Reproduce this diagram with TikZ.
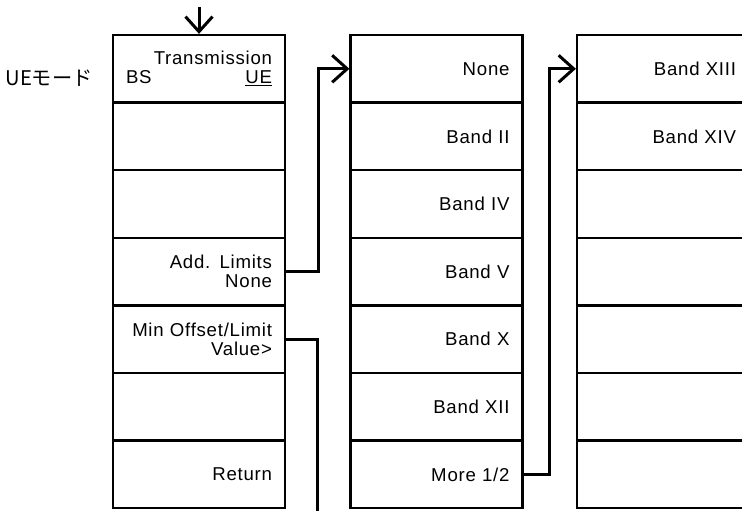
\documentclass[tikz,border=0pt]{standalone}
\usepackage{fontspec}
\setmainfont{Liberation Sans}[LetterSpace=4]
\newfontfamily\jpfont{Noto Sans CJK JP}
\usetikzlibrary{arrows.meta}

\tikzset{
  menubox/.style={draw, line width=0.045cm, rectangle, minimum width=3.44cm,
    minimum height=1.352cm, inner xsep=0.26cm, inner ysep=1pt,
    text width=2.92cm, align=right, font=\fontsize{10.6}{10.6}\selectfont},
  link/.style={line width=0.06cm, -{Straight Barb[length=3mm,width=5.4mm,line width=0.06cm]}},
  nolink/.style={line width=0.06cm}
}

\begin{document}
\begin{tikzpicture}[x=0.02cm,y=-0.02cm]
\useasboundingbox (0,0) rectangle (742,510);
\clip (0,0) rectangle (742,510);

% mode label
\node (mode) at (49,78) {\jpfont\fontsize{11.5}{12}\selectfont UEモード};

% first menu
\node[menubox] (a1) at (199,68.8) {Transmission\\BS\hfill\underline{UE}};
\node[menubox] (a2) at (199,136.4) {};
\node[menubox] (a3) at (199,204) {};
\node[menubox] (a4) at (199,271.6) {Add. Limits\\None};
\node[menubox] (a5) at (199,339.2) {Min Offset/Limit\\Value>};
\node[menubox] (a6) at (199,406.8) {};
\node[menubox] (a7) at (199,474.4) {Return};

% second menu
\node[menubox] (b1) at (436.5,68.8) {None};
\node[menubox] (b2) at (436.5,136.4) {Band II};
\node[menubox] (b3) at (436.5,204) {Band IV};
\node[menubox] (b4) at (436.5,271.6) {Band V};
\node[menubox] (b5) at (436.5,339.2) {Band X};
\node[menubox] (b6) at (436.5,406.8) {Band XII};
\node[menubox] (b7) at (436.5,474.4) {More 1/2};

% third menu
\node[menubox] (c1) at (663,68.8) {Band XIII};
\node[menubox] (c2) at (663,136.4) {Band XIV};
\node[menubox] (c3) at (663,204) {};
\node[menubox] (c4) at (663,271.6) {};
\node[menubox] (c5) at (663,339.2) {};
\node[menubox] (c6) at (663,406.8) {};
\node[menubox] (c7) at (663,474.4) {};

% connectors
\coordinate (entry) at (199,7);
\coordinate (exit) at (317,520);
\draw[link] (entry) -- (a1.north);
\draw[link] (a4.east) -- ++(32,0) |- (b1.west);
\draw[nolink] (a5.east) -| (exit);
\draw[link] (b7.east) -- ++(26,0) |- (c1.west);
\end{tikzpicture}
\end{document}
